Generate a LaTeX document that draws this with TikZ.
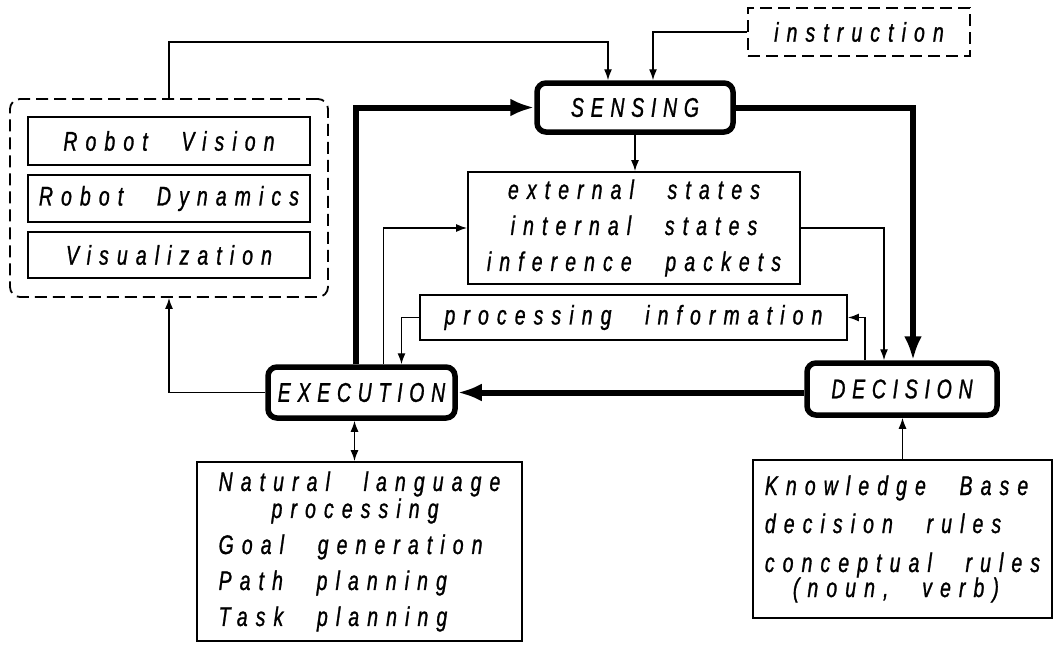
\documentclass[tikz,border=0pt]{standalone}
\usepackage{fontspec}
\usetikzlibrary{arrows.meta}
\newfontfamily\diagfont{Liberation Sans}[LetterSpace=30,FakeStretch=0.72,FakeBold=1,WordSpace=2.5]
\newfontfamily\stagefont{Liberation Sans}[LetterSpace=25,FakeStretch=0.72,FakeBold=1]

\begin{document}
\begin{tikzpicture}[x=1pt,y=1pt]
	\tikzstyle{every node}+=[inner sep=0pt, font=\diagfont\itshape\fontsize{27}{36}\selectfont]
	\tikzstyle{box}=[draw, rectangle, line width=1.8pt]
	\tikzstyle{stage}=[draw, rectangle, line width=5.5pt, rounded corners=9pt, font=\stagefont\itshape\fontsize{27}{36}\selectfont]
	\tikzstyle{dashbox}=[draw, rectangle, line width=1.8pt, dash pattern=on 12pt off 6pt]
	\tikzstyle{flow}=[line width=1.4pt, -{Latex[length=11pt,width=8pt]}]
	\tikzstyle{bothflow}=[line width=1.4pt, {Latex[length=11pt,width=8pt]}-{Latex[length=11pt,width=8pt]}]
	\tikzstyle{mainflow}=[line width=6pt, -{Latex[length=24pt,width=18pt]}]
	\useasboundingbox (0,0) rectangle (1060,-649);
	% robot side
	\node [dashbox, rounded corners=10pt, minimum width=318, minimum height=198] (robot) at (169,-198) {};
	\node [box, minimum width=282, minimum height=48] (vision) at (169,-141) {Robot Vision};
	\node [box, minimum width=282, minimum height=47] (dynamics) at (169,-198.5) {Robot Dynamics};
	\node [box, minimum width=282, minimum height=46] (visual) at (169,-255) {Visualization};
	\node [dashbox, minimum width=222, minimum height=48] (instr) at (859,-32) {instruction};
	% the three stages
	\node [stage, minimum width=196, minimum height=49] (sensing) at (635,-107.5) {SENSING};
	\node [stage, minimum width=187, minimum height=51] (execution) at (361.5,-392.5) {EXECUTION};
	\node [stage, minimum width=190, minimum height=52] (decision) at (902,-389) {DECISION};
	% data boxes
	\node [box, align=center, minimum width=332, minimum height=112] (states) at (634,-228) {external states\\internal states\\inference packets};
	\node [box, minimum width=427, minimum height=45] (procinfo) at (633.5,-317.5) {processing information};
	\node [box, align=left, minimum width=325, minimum height=179] (nlp) at (359.5,-551.5) {Natural language\\[-9pt]\hspace*{53pt}processing\\Goal generation\\Path planning\\Task planning};
	\node [box, align=left, minimum width=299, minimum height=158] (know) at (902.5,-539) {Knowledge Base\\[2pt]decision rules\\[3pt]conceptual rules\\[-11pt]\hspace*{28pt}(noun, verb)};
	% main cycle
	\draw [mainflow] (sensing.east) -| ([xshift=11]decision.north);
	\draw [mainflow] (decision.west |- execution.east) -- (execution.east);
	\draw [mainflow] ([xshift=-6]execution.north) |- (sensing.west);
	% thin links
	\coordinate (fb) at (608,-42);
	\draw [flow] (robot.north) |- (fb) -- (fb |- sensing.north);
	\draw [flow] (instr.west) -| ([xshift=18]sensing.north);
	\draw [flow] (sensing.south) -- (sensing.south |- states.north);
	\draw [flow] ([xshift=22]execution.north) |- (states.west);
	\draw [flow] (states.east) -| ([xshift=-18]decision.north);
	\draw [flow] ([xshift=-37]decision.north) |- (procinfo.east);
	\draw [flow] (procinfo.west) -| ([xshift=40]execution.north);
	\draw [flow] (execution.west) -| (robot.south);
	\draw [bothflow] ([xshift=-7]execution.south) -- ([xshift=-7]execution.south |- nlp.north);
	\draw [flow] (know.north) -- (know.north |- decision.south);
\end{tikzpicture}
\end{document}
